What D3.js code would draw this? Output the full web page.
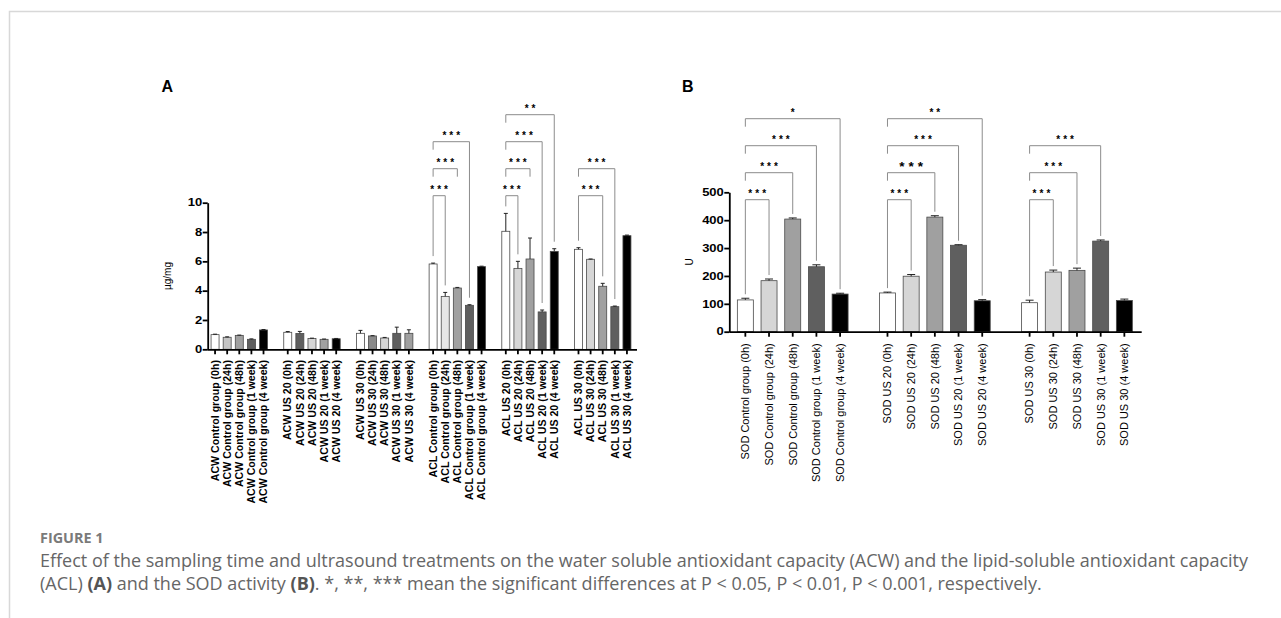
<!DOCTYPE html>
<html>
<head>
<meta charset="utf-8">
<script src="https://cdn.jsdelivr.net/npm/d3@7"></script>
<style>
  body { margin: 0; background: #fff; }
  svg { display: block; }
  .chart text { font-family: "Liberation Sans", Arial, sans-serif; }
  .caption text { font-family: "Open Sans", sans-serif; }
</style>
</head>
<body>
<div class="main"></div>
<script>
// sampling times, same for every group
const timepoints = ["0h", "24h", "48h", "1 week", "4 week"];

// Panel A - ACW / ACL (µg/mg)
const groupsA = ["ACW Control group", "ACW US 20", "ACW US 30", "ACL Control group", "ACL US 20", "ACL US 30"];
const meansA = [
  [1.00, 0.82, 0.95, 0.68, 1.32],
  [1.16, 1.08, 0.74, 0.68, 0.72],
  [1.09, 0.91, 0.77, 1.09, 1.09],
  [5.82, 3.61, 4.18, 3.00, 5.64],
  [8.05, 5.52, 6.16, 2.55, 6.68],
  [6.82, 6.14, 4.30, 2.91, 7.75]
];
const errA = [
  [0.03, 0.03, 0.02, 0.03, 0.03],
  [0.05, 0.14, 0.02, 0.02, 0.02],
  [0.20, 0.02, 0.04, 0.42, 0.24],
  [0.06, 0.27, 0.04, 0.04, 0.03],
  [1.22, 0.48, 1.43, 0.13, 0.18],
  [0.11, 0.02, 0.20, 0.04, 0.04]
];
const ticksA = [0, 2, 4, 6, 8, 10];
// [group, bar from, bar to, stars, level, right leg reaches bar]
const sigA = [
  [3, 0, 1, "***", 0, true], [3, 0, 2, "***", 1, false], [3, 0, 3, "***", 2, true],
  [4, 0, 1, "***", 0, true], [4, 0, 2, "***", 1, false], [4, 0, 3, "***", 2, true], [4, 0, 4, "**", 3, true],
  [5, 0, 2, "***", 0, true], [5, 0, 3, "***", 1, true]
];

// Panel B - SOD activity (U)
const groupsB = ["SOD Control group", "SOD US 20", "SOD US 30"];
const meansB = [
  [114, 183, 404, 233, 135],
  [139, 199, 411, 310, 111],
  [104, 214, 220, 325, 112]
];
const errB = [
  [6, 6, 4, 7, 3],
  [3, 6, 5, 2, 4],
  [9, 7, 8, 4, 5]
];
const ticksB = [0, 100, 200, 300, 400, 500];
const sigB = [
  [0, 0, 1, "***", 0, true], [0, 0, 2, "***", 1, true], [0, 0, 3, "***", 2, true], [0, 0, 4, "*", 3, true],
  [1, 0, 1, "***", 0, true], [1, 0, 2, "***", 1, true, "big"], [1, 0, 3, "***", 2, true], [1, 0, 4, "**", 3, true],
  [2, 0, 1, "***", 0, true], [2, 0, 2, "***", 1, true], [2, 0, 3, "***", 2, true]
];

// grey shades used by the bars
const W = "#ffffff", L = "#d6d6d6", M = "#a0a0a0", D = "#5f5f5f", K = "#000000";
const fillsA = [
  [W, "#c4c4c4", M, D, K],
  [W, D, L, M, K],
  [W, "#8a8a8a", L, D, M],
  [W, "#e6e6e6", M, D, K],
  [W, L, M, D, K],
  [W, L, M, D, K]
];
const fillsB = [[W, L, M, D, K], [W, L, M, D, K], [W, L, M, D, K]];

const width = 1281, height = 618;

const svg = d3.select(".main").append("svg")
  .attr("width", width)
  .attr("height", height)
  .attr("viewBox", [0, 0, width, height]);

// page frame
svg.append("path")
  .attr("d", `M9.5,${height}V11.5H${width}`)
  .attr("fill", "none")
  .attr("stroke", "#d8d8d8")
  .attr("stroke-width", 1.5);

const chart = svg.append("g").attr("class", "chart");

function drawPanel(p) {
  const g = chart.append("g");

  // one row per bar, gap slot between groups
  const rows = [];
  const slots = [];
  p.groups.forEach((name, gi) => {
    if (gi > 0) slots.push("gap" + gi);
    timepoints.forEach((t, k) => {
      const key = `${name} (${t})`;
      slots.push(key);
      rows.push({ gi, k, key, v: p.means[gi][k], e: p.err[gi][k], fill: p.fills[gi][k] });
    });
  });

  const x = d3.scaleBand()
    .domain(slots)
    .range(p.xRange)
    .paddingInner(p.pad)
    .paddingOuter(p.pad / 2);

  const y = d3.scaleLinear()
    .domain([0, d3.max(p.ticks)])
    .range(p.yRange);

  const cx = key => x(key) + x.bandwidth() / 2;
  const rowOf = (gi, k) => rows.find(r => r.gi === gi && r.k === k);

  // bars
  g.append("g")
    .selectAll("rect")
    .data(rows)
    .join("rect")
      .attr("x", d => x(d.key))
      .attr("y", d => y(d.v))
      .attr("width", x.bandwidth())
      .attr("height", d => y(0) - y(d.v))
      .attr("fill", d => d.fill)
      .attr("stroke", "#4a4a4a")
      .attr("stroke-width", 0.8);

  // error bars (upper only)
  const eb = g.append("g")
    .attr("stroke", "#222")
    .attr("stroke-width", 1)
    .selectAll("g")
    .data(rows)
    .join("g");
  eb.append("line")
    .attr("x1", d => cx(d.key)).attr("x2", d => cx(d.key))
    .attr("y1", d => y(d.v)).attr("y2", d => y(d.v + d.e));
  eb.append("line")
    .attr("x1", d => cx(d.key) - x.bandwidth() / 4)
    .attr("x2", d => cx(d.key) + x.bandwidth() / 4)
    .attr("y1", d => y(d.v + d.e)).attr("y2", d => y(d.v + d.e));

  // y axis
  const ya = g.append("g")
    .attr("transform", `translate(${p.axisX},0)`)
    .call(d3.axisLeft(y).tickValues(p.ticks).tickSize(5).tickPadding(1).tickSizeOuter(0));
  ya.select(".domain").attr("stroke-width", 1.8);
  ya.selectAll(".tick line").attr("stroke-width", 1.8);
  // tick numbers are drawn wide in the original
  ya.selectAll(".tick text")
    .attr("x", 0)
    .attr("transform", "translate(-5.5,0) scale(1.3,1)")
    .style("font-weight", "bold")
    .style("font-size", "10px")
    .attr("fill", "#000");

  // x axis
  const xa = g.append("g")
    .attr("transform", `translate(0,${y(0)})`)
    .call(d3.axisBottom(x).tickValues(rows.map(d => d.key)).tickSize(5).tickSizeOuter(0));
  xa.select(".domain")
    .attr("d", `M${p.axisX},0.5H${p.axisEnd}`)
    .attr("stroke-width", 1.8);
  xa.selectAll(".tick line").attr("stroke-width", 1.8);
  xa.selectAll(".tick text")
    .attr("transform", "rotate(-90)")
    .attr("x", -p.labelGap)
    .attr("y", 0)
    .attr("dy", "0.35em")
    .attr("text-anchor", "end")
    .style("font-weight", p.labelWeight)
    .style("font-size", p.labelSize + "px")
    .attr("fill", "#000");

  // y axis title
  g.append("text")
    .attr("transform", `translate(${p.titleX},${(p.yRange[0] + p.yRange[1]) / 2}) rotate(-90)`)
    .attr("text-anchor", "middle")
    .attr("dy", "0.35em")
    .attr("font-size", 10)
    .text(p.title);

  // panel letter
  g.append("text")
    .attr("x", p.letterX)
    .attr("y", 92)
    .attr("font-weight", "bold")
    .attr("font-size", 16)
    .text(p.letter);

  // significance brackets
  const br = g.append("g");
  p.sig.forEach(([gi, a, b, stars, level, reach, big]) => {
    const ra = rowOf(gi, a), rb = rowOf(gi, b);
    const yl = p.bracketBase - level * p.bracketGap;
    const left = level === 0 ? y(ra.v + ra.e) - p.legGap : yl + 8;
    const right = reach ? y(rb.v + rb.e) - p.legGap : yl + 8;
    br.append("path")
      .attr("d", `M${cx(ra.key)},${left}V${yl}H${cx(rb.key)}V${right}`)
      .attr("fill", "none")
      .attr("stroke", "#8c8c8c")
      .attr("stroke-width", 1);
    const ls = big ? 4 : 3;
    br.append("text")
      .attr("x", (cx(ra.key) + cx(rb.key)) / 2 + ls / 2)
      .attr("y", yl - (big ? 1.5 : 2.5))
      .attr("text-anchor", "middle")
      .attr("font-weight", "bold")
      .attr("font-size", big ? 13.5 : 10)
      .attr("letter-spacing", ls)
      .attr("fill", "#000")
      .text(stars);
  });
}

drawPanel({
  groups: groupsA, means: meansA, err: errA, ticks: ticksA, fills: fillsA, sig: sigA,
  yRange: [349.3, 202.7], xRange: [209, 633], pad: 0.34,
  axisX: 207.7, axisEnd: 637,
  labelGap: 10.7, labelWeight: "bold", labelSize: 10.6,
  title: "µg/mg", titleX: 167.7, letter: "A", letterX: 161.5,
  bracketBase: 195.7, bracketGap: 27, legGap: 7
});

drawPanel({
  groups: groupsB, means: meansB, err: errB, ticks: ticksB, fills: fillsB, sig: sigB,
  yRange: [331.7, 192.3], xRange: [733.5, 1136.2], pad: 0.325,
  axisX: 729.3, axisEnd: 1141.7,
  labelGap: 11.6, labelWeight: "normal", labelSize: 11,
  title: "U", titleX: 689.5, letter: "B", letterX: 682,
  bracketBase: 199.7, bracketGap: 27, legGap: 4
});

// caption
const cap = svg.append("g").attr("class", "caption");
cap.append("text")
  .attr("x", 40).attr("y", 543)
  .style("font-weight", "bold")
  .style("font-size", "14.4px")
  .attr("fill", "#7a7a7a")
  .text("FIGURE 1");
cap.append("text")
  .attr("x", 40).attr("y", 567)
  .style("font-size", "18px")
  .attr("fill", "#666")
  .text("Effect of the sampling time and ultrasound treatments on the water soluble antioxidant capacity (ACW) and the lipid-soluble antioxidant capacity");
const line2 = cap.append("text")
  .attr("x", 40).attr("y", 590)
  .style("font-size", "18px")
  .attr("fill", "#666");
line2.append("tspan").text("(ACL) ");
line2.append("tspan").style("font-weight", "bold").attr("fill", "#555").text("(A)");
line2.append("tspan").text(" and the SOD activity ");
line2.append("tspan").style("font-weight", "bold").attr("fill", "#555").text("(B)");
line2.append("tspan").text(". *, **, *** mean the significant differences at P < 0.05, P < 0.01, P < 0.001, respectively.");
</script>
</body>
</html>
